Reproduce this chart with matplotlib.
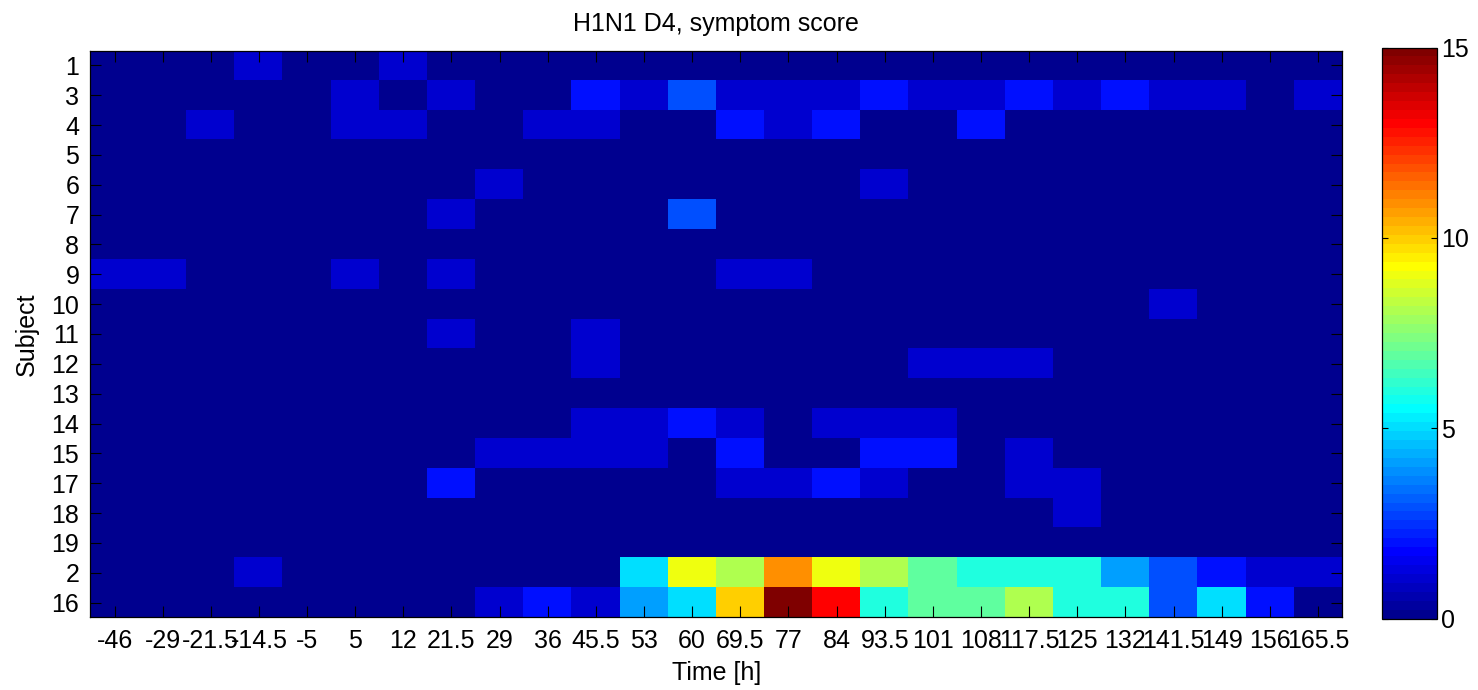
import numpy as np
import matplotlib
matplotlib.use('Agg')
import matplotlib.pyplot as plt
from matplotlib.colors import ListedColormap

# time points (columns) and subjects (rows)
times = ['-46', '-29', '-21.5', '-14.5', '-5', '5', '12', '21.5', '29', '36', '45.5', '53',
         '60', '69.5', '77', '84', '93.5', '101', '108', '117.5', '125', '132', '141.5',
         '149', '156', '165.5']
subjects = ['1', '3', '4', '5', '6', '7', '8', '9', '10', '11', '12', '13', '14', '15',
            '17', '18', '19', '2', '16']

# symptom score per subject, one row per subject
scores = [
    [0, 0, 0, 1, 0, 0, 1, 0, 0, 0, 0, 0, 0, 0, 0, 0, 0, 0, 0, 0, 0, 0, 0, 0, 0, 0],   # 1
    [0, 0, 0, 0, 0, 1, 0, 1, 0, 0, 2, 1, 3, 1, 1, 1, 2, 1, 1, 2, 1, 2, 1, 1, 0, 1],   # 3
    [0, 0, 1, 0, 0, 1, 1, 0, 0, 1, 1, 0, 0, 2, 1, 2, 0, 0, 2, 0, 0, 0, 0, 0, 0, 0],   # 4
    [0, 0, 0, 0, 0, 0, 0, 0, 0, 0, 0, 0, 0, 0, 0, 0, 0, 0, 0, 0, 0, 0, 0, 0, 0, 0],   # 5
    [0, 0, 0, 0, 0, 0, 0, 0, 1, 0, 0, 0, 0, 0, 0, 0, 1, 0, 0, 0, 0, 0, 0, 0, 0, 0],   # 6
    [0, 0, 0, 0, 0, 0, 0, 1, 0, 0, 0, 0, 3, 0, 0, 0, 0, 0, 0, 0, 0, 0, 0, 0, 0, 0],   # 7
    [0, 0, 0, 0, 0, 0, 0, 0, 0, 0, 0, 0, 0, 0, 0, 0, 0, 0, 0, 0, 0, 0, 0, 0, 0, 0],   # 8
    [1, 1, 0, 0, 0, 1, 0, 1, 0, 0, 0, 0, 0, 1, 1, 0, 0, 0, 0, 0, 0, 0, 0, 0, 0, 0],   # 9
    [0, 0, 0, 0, 0, 0, 0, 0, 0, 0, 0, 0, 0, 0, 0, 0, 0, 0, 0, 0, 0, 0, 1, 0, 0, 0],   # 10
    [0, 0, 0, 0, 0, 0, 0, 1, 0, 0, 1, 0, 0, 0, 0, 0, 0, 0, 0, 0, 0, 0, 0, 0, 0, 0],   # 11
    [0, 0, 0, 0, 0, 0, 0, 0, 0, 0, 1, 0, 0, 0, 0, 0, 0, 1, 1, 1, 0, 0, 0, 0, 0, 0],   # 12
    [0, 0, 0, 0, 0, 0, 0, 0, 0, 0, 0, 0, 0, 0, 0, 0, 0, 0, 0, 0, 0, 0, 0, 0, 0, 0],   # 13
    [0, 0, 0, 0, 0, 0, 0, 0, 0, 0, 1, 1, 2, 1, 0, 1, 1, 1, 0, 0, 0, 0, 0, 0, 0, 0],   # 14
    [0, 0, 0, 0, 0, 0, 0, 0, 1, 1, 1, 1, 0, 2, 0, 0, 2, 2, 0, 1, 0, 0, 0, 0, 0, 0],   # 15
    [0, 0, 0, 0, 0, 0, 0, 2, 0, 0, 0, 0, 0, 1, 1, 2, 1, 0, 0, 1, 1, 0, 0, 0, 0, 0],   # 17
    [0, 0, 0, 0, 0, 0, 0, 0, 0, 0, 0, 0, 0, 0, 0, 0, 0, 0, 0, 0, 1, 0, 0, 0, 0, 0],   # 18
    [0, 0, 0, 0, 0, 0, 0, 0, 0, 0, 0, 0, 0, 0, 0, 0, 0, 0, 0, 0, 0, 0, 0, 0, 0, 0],   # 19
    [0, 0, 0, 1, 0, 0, 0, 0, 0, 0, 0, 5, 9, 8, 11, 9, 8, 7, 6, 6, 6, 4, 3, 2, 1, 1],  # 2
    [0, 0, 0, 0, 0, 0, 0, 0, 1, 2, 1, 4, 5, 10, 15, 13, 6, 7, 7, 8, 6, 6, 3, 5, 2, 0], # 16
]


def matlab_jet(m=64):
    # same construction as MATLAB's jet(m)
    n = int(np.ceil(m / 4))
    u = np.concatenate([np.arange(1, n + 1) / n, np.ones(n - 1), np.arange(n, 0, -1) / n])
    g = int(np.ceil(n / 2)) - int(m % 4 == 1) + np.arange(1, len(u) + 1)
    r = g + n
    b = g - n
    J = np.zeros((m, 3))
    rr = r[r <= m]
    gg = g[g <= m]
    bb = b[b >= 1]
    J[rr - 1, 0] = u[:len(rr)]
    J[gg - 1, 1] = u[:len(gg)]
    J[bb - 1, 2] = u[len(u) - len(bb):]
    return ListedColormap(J)


plt.rcParams['font.family'] = ['Liberation Sans', 'DejaVu Sans']
fs = 18

fig = plt.figure(figsize=(14.78, 6.9), dpi=100)
ax = fig.add_axes([0.0612, 0.1051, 0.8468, 0.8217])
im = ax.imshow(np.array(scores), cmap=matlab_jet(64), vmin=0, vmax=15,
               aspect='auto', interpolation='nearest')

ax.set_xticks(range(len(times)))
ax.set_xticklabels(times)
ax.set_yticks(range(len(subjects)))
ax.set_yticklabels(subjects)
ax.tick_params(direction='in', length=8, width=0.8, top=True, right=True,
               labelsize=fs, pad=8)
for s in ax.spines.values():
    s.set_linewidth(0.9)

ax.set_title('H1N1 D4, symptom score', fontsize=fs, pad=14)
ax.set_xlabel('Time [h]', fontsize=fs, labelpad=6)
ax.set_ylabel('Subject', fontsize=fs, labelpad=9)

cax = fig.add_axes([0.935, 0.1036, 0.0372, 0.8275])
cb = fig.colorbar(im, cax=cax, ticks=[0, 5, 10, 15])
cb.ax.tick_params(direction='in', length=4, width=0.8, left=True, right=True,
                  labelsize=fs, pad=3)
cb.outline.set_linewidth(0.9)

fig.savefig('out.png', dpi=100)
